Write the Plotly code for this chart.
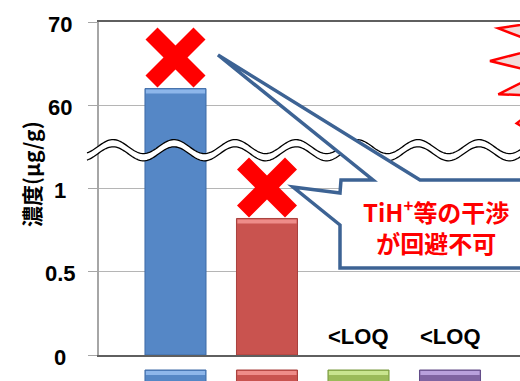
import numpy as np
import plotly.graph_objects as go

# ---------------- data ----------------
bar_x = [0, 1, 2, 3]
concentrations = [62, 0.82, 0, 0]          # µg/g
below_loq = [False, False, True, True]
bar_colors = ["#5587C6", "#C9534F", "#9BBB59", "#8064A2"]
bar_edge = ["#3E6AA6", "#A8403D", "#7A9A40", "#634C88"]
bar_top = ["#8DB6EA", "#EE8C89", "#C9E58F", "#B9A0DC"]
tick_values = [0, 0.5, 1, 60, 70]
tick_labels = ["0", "0.5", "1", "60", "70"]
flagged = [True, True, False, False]       # red X marks
callout_text = "TiH<sup>+</sup>等の干渉<br>が回避不可"
y_title = "濃度(μg/g)"
loq_text = "&lt;LOQ"

# ---------------- geometry ----------------
W, H = 520, 381
ML, MR, MT, MB = 99, 0, 22, 26
PW, PH = W - ML - MR, H - MT - MB
tick_pos = list(range(len(tick_values)))   # broken axis: equally spaced ticks


def ypos(v):
    return float(np.interp(v, tick_values, tick_pos))


def px(x):
    return (x - ML) / PW


def py(y):
    return (MT + PH - y) / PH


def path_paper(pts, close=True):
    s = "M " + " L ".join(f"{px(a):.5f},{py(b):.5f}" for a, b in pts)
    return s + (" Z" if close else "")


bar_w = 0.667
x_range = [-0.836, 3.765]
y_range = [0, 4]

fig = go.Figure()
fig.add_trace(go.Bar(
    x=bar_x, y=[ypos(v) for v in concentrations], width=bar_w,
    marker=dict(color=bar_colors,
                line=dict(color=bar_edge, width=[1 if v > 0 else 0 for v in concentrations])),
    hoverinfo="skip", showlegend=False,
))

shapes = []
annotations = []

# bevel strip on bar tops
for xi, v, c in zip(bar_x, concentrations, bar_top):
    if v > 0:
        shapes.append(dict(type="rect", xref="x", yref="y", x0=xi - bar_w / 2 + 0.01,
                           x1=xi + bar_w / 2 - 0.01, ysizemode="pixel", yanchor=ypos(v),
                           y0=-1, y1=-5, fillcolor=c, line=dict(width=0), layer="above"))

# axis break wave (double wavy line, white between)
break_pos = (ypos(1) + ypos(60)) / 2
anchor_img = MT + PH - break_pos * PH / (y_range[1] - y_range[0])
xs = np.linspace(87, 525, 300)
amp, up_c, lo_c, period, x_peak = 7.0, 146.6, 153.8, 61.0, 113.0
wave = amp * np.cos(2 * np.pi * (xs - x_peak) / period)
upper = [(x, anchor_img - (up_c - w)) for x, w in zip(xs, wave)]
lower = [(x, anchor_img - (lo_c - w)) for x, w in zip(xs, wave)]


def wave_path(pts, close=False):
    s = "M " + " L ".join(f"{px(a):.5f},{b:.2f}" for a, b in pts)
    return s + (" Z" if close else "")


common = dict(xref="paper", yref="y", ysizemode="pixel", yanchor=break_pos, layer="above")
shapes.append(dict(type="path", path=wave_path(upper + lower[::-1], True),
                   fillcolor="white", line=dict(width=0), **common))
shapes.append(dict(type="path", path=wave_path(upper), line=dict(color="black", width=1.3), **common))
shapes.append(dict(type="path", path=wave_path(lower), line=dict(color="black", width=1.3), **common))

# red X marks above flagged bars
s, d, lift = 30, 12, 31
xpts = [(0, d), (s - d, s), (s, s - d), (d, 0), (s, -(s - d)), (s - d, -s), (0, -d),
        (-(s - d), -s), (-s, -(s - d)), (-d, 0), (-s, s - d), (-(s - d), s)]
xpath = "M " + " L ".join(f"{a},{b + lift}" for a, b in xpts) + " Z"
for xi, v, f in zip(bar_x, concentrations, flagged):
    if f:
        shapes.append(dict(type="path", xref="x", yref="y", xsizemode="pixel", ysizemode="pixel",
                           xanchor=xi, yanchor=ypos(v), path=xpath, fillcolor="#FF0000",
                           line=dict(width=0), layer="above"))

# starburst at right edge (only the spike tips are inside the picture)
burst = [(560, 20), (545, 21.2), (498.3, 28.3), (545.6, 46.6), (490, 61), (540, 73.2),
         (498.3, 94.3), (552, 96), (516.7, 123.3), (545, 140), (560, 140)]
shapes.append(dict(type="path", xref="paper", yref="paper", path=path_paper(burst),
                   fillcolor="#F2DCDB", line=dict(color="#FF0000", width=2.5), layer="above"))

# callout with two tails
callout = [(341, 180), (373, 180), (218, 55), (420, 180), (535, 180), (535, 268),
           (340, 268), (340, 225), (293, 187), (340, 193)]
shapes.append(dict(type="path", xref="paper", yref="paper", path=path_paper(callout),
                   fillcolor="white", line=dict(color="#3D6394", width=3.5), layer="above"))

# legend swatches below the plot
for xi, c, e, t in zip(bar_x, bar_colors, bar_edge, bar_top):
    shapes.append(dict(type="rect", xref="x", yref="paper", x0=xi - bar_w / 2, x1=xi + bar_w / 2,
                       y0=py(390), y1=py(370), fillcolor=c, line=dict(color=e, width=1)))
    shapes.append(dict(type="rect", xref="x", yref="paper", x0=xi - bar_w / 2 + 0.01,
                       x1=xi + bar_w / 2 - 0.01, y0=py(375), y1=py(371), fillcolor=t,
                       line=dict(width=0)))

# y tick labels (centred, as in the original)
for v, t in zip(tick_values, tick_labels):
    annotations.append(dict(x=px(60), xref="paper", y=ypos(v), yref="y", text=t,
                            showarrow=False, xanchor="center", yanchor="middle", yshift=-2,
                            font=dict(family="Liberation Sans, Arial", size=22, color="black",
                                      weight="bold")))

annotations.append(dict(x=px(31), y=py(174), xref="paper", yref="paper", text=y_title,
                        textangle=-90, showarrow=False, xanchor="center", yanchor="middle",
                        font=dict(family="Noto Sans CJK JP", size=21, color="black",
                                  weight="bold")))

for xi, v, b in zip(bar_x, concentrations, below_loq):
    if b:
        annotations.append(dict(x=xi, y=ypos(v), xref="x", yref="y", text=loq_text,
                                showarrow=False, xanchor="center", yanchor="bottom", yshift=4,
                                font=dict(family="Liberation Sans, Arial", size=22,
                                          color="black", weight="bold")))

annotations.append(dict(x=px(436), y=py(226), xref="paper", yref="paper", text=callout_text,
                        showarrow=False, xanchor="center", yanchor="middle",
                        font=dict(family="Noto Sans CJK JP", size=24, color="#FF0000",
                                  weight="bold")))

fig.update_layout(
    width=W, height=H, margin=dict(l=ML, r=MR, t=MT, b=MB, pad=0),
    paper_bgcolor="white", plot_bgcolor="white",
    xaxis=dict(range=x_range, showticklabels=False, ticks="", showgrid=False, zeroline=False,
               showline=True, mirror=True, linecolor="#5F5F5F", linewidth=2),
    yaxis=dict(range=y_range, tickvals=[ypos(v) for v in tick_values], showticklabels=False,
               ticks="outside", ticklen=9, tickcolor="#A6A6A6", tickwidth=1,
               showgrid=True, gridcolor="#B5B5B5", gridwidth=1, zeroline=False,
               showline=True, linecolor="#A6A6A6", linewidth=2),
    shapes=shapes, annotations=annotations, showlegend=False,
)
fig.write_html("out.html")
